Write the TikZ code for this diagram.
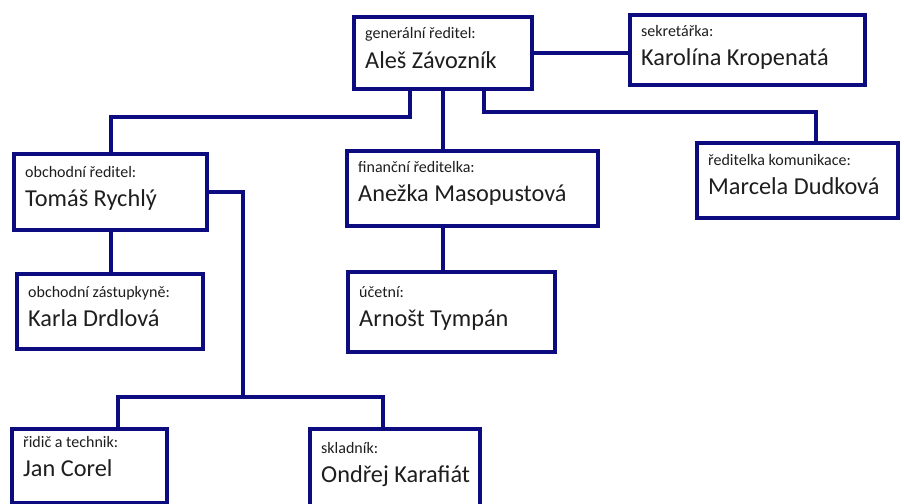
\documentclass[tikz,border=0pt]{standalone}
\usepackage{fontspec}
\setmainfont{Carlito}
\usetikzlibrary{calc}
\definecolor{orgnavy}{RGB}{12,12,128}
\definecolor{orgtext}{RGB}{30,30,30}
\newcommand\orgnode[8]{%
  \node[orgbox, minimum width=#4-#2, minimum height=#5-#3] (#1) at (#2,#3) {};
  \node[lbl] (#1-l) at ($(#1.north west)+(11,#6)$) {#7};
  \node[nm] (#1-n) at ($(#1.north west)+(11,#6+29)$) {#8};
}
\begin{document}
\begin{tikzpicture}[x=1pt,y=-1pt,
  orgbox/.style={draw=orgnavy, line width=4pt, fill=white, rectangle, inner sep=0pt, outer sep=0pt, anchor=north west},
  lbl/.style={anchor=base west, inner sep=0pt, font=\fontsize{16}{18}\selectfont, text=orgtext},
  nm/.style={anchor=base west, inner sep=0pt, font=\fontsize{24.3}{28}\selectfont, text=orgtext},
  link/.style={draw=orgnavy, line width=4pt}]
\useasboundingbox (0,0) rectangle (904,503);
\fill[white] (0,0) rectangle (904,503);
\clip (0,0) rectangle (904,503);

\orgnode{gen}{354}{17}{532}{89}{22}{generální ředitel:}{Aleš Závozník}
\orgnode{sek}{630}{15}{865}{85}{22}{sekretářka:}{Karolína Kropenatá}
\orgnode{obch}{14}{154}{207}{230}{23}{obchodní ředitel:}{Tomáš Rychlý}
\orgnode{fin}{347}{151}{598}{226}{21}{finanční ředitelka:}{Anežka Masopustová}
\orgnode{kom}{697}{143}{898}{218}{22}{ředitelka komunikace:}{Marcela Dudková}
\orgnode{zast}{17}{274}{203}{349}{23}{obchodní zástupkyně:}{Karla Drdlová}
\orgnode{uce}{348}{272}{555}{352}{25}{účetní:}{Arnošt Tympán}
\orgnode{ridic}{12}{429}{167}{503}{18}{řidič a technik:}{Jan Corel}
\orgnode{sklad}{310}{429}{480}{520}{24}{skladník:}{Ondřej Karafiát}

\coordinate (j) at (243,397);

\draw[link] (gen.east) -- (gen.east -| sek.west);
\draw[link] ([xshift=-33pt]gen.south) -- ++(0,28) -| (obch.north);
\draw[link] (gen.south) -- (gen.south |- fin.north);
\draw[link] ([xshift=41pt]gen.south) -- ++(0,23) -| ([xshift=18.5pt]kom.north);
\draw[link] (fin.south -| gen.south) -- (uce.north -| gen.south);
\draw[link] (obch.south) -- (obch.south |- zast.north);
\draw[link] (obch.east) -| (j);
\draw[link] ([xshift=28.5pt]ridic.north) |- (j) -| ([xshift=-12pt]sklad.north);
\end{tikzpicture}
\end{document}
